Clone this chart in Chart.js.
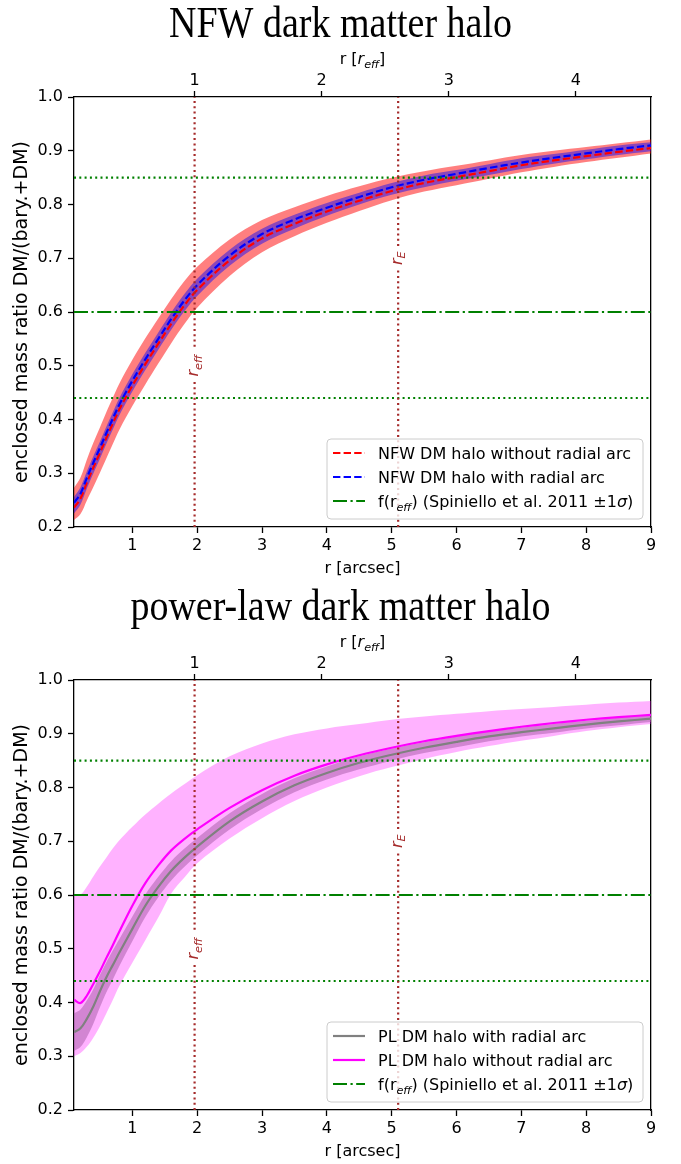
<!DOCTYPE html>
<html>
<head>
<meta charset="utf-8">
<script src="https://cdn.jsdelivr.net/npm/chart.js@4.4.1/dist/chart.umd.min.js"></script>
<style>
  body { margin: 0; background: #fff; overflow: hidden; }
  #wrap { position: relative; width: 681px; height: 1164px; }
  canvas { position: absolute; left: 0; }
</style>
</head>
<body>
<div id="wrap">
  <canvas id="nfw" width="681" height="582" style="top:0px"></canvas>
  <canvas id="pl" width="681" height="582" style="top:583px"></canvas>
</div>
<script>
// radius grid in arcsec
var rGrid = [0.1, 0.2, 0.3, 0.4, 0.5, 0.6, 0.7, 0.8, 1.0, 1.2, 1.4, 1.6, 1.8, 2.0,
             2.5, 3.0, 3.5, 4.0, 4.5, 5.0, 5.5, 6.0, 6.5, 7.0, 7.5, 8.0, 8.5, 9.0];

// NFW halo: enclosed DM fraction
var nfwWithArc    = [0.245, 0.262, 0.292, 0.320, 0.347, 0.375, 0.402, 0.428, 0.472, 0.512, 0.550, 0.587, 0.621, 0.650,
                     0.705, 0.745, 0.772, 0.794, 0.814, 0.832, 0.846, 0.857, 0.868, 0.878, 0.887, 0.895, 0.903, 0.910];
var nfwWithoutArc = [0.236, 0.253, 0.283, 0.311, 0.338, 0.366, 0.393, 0.419, 0.463, 0.503, 0.541, 0.578, 0.612, 0.641,
                     0.696, 0.737, 0.764, 0.787, 0.807, 0.825, 0.840, 0.851, 0.862, 0.873, 0.882, 0.890, 0.898, 0.905];
var nfwWithoutLo  = [0.213, 0.224, 0.250, 0.275, 0.301, 0.328, 0.355, 0.381, 0.425, 0.465, 0.504, 0.542, 0.577, 0.608,
                     0.667, 0.711, 0.741, 0.766, 0.788, 0.808, 0.824, 0.836, 0.848, 0.860, 0.870, 0.879, 0.887, 0.895];
var nfwWithoutHi  = [0.273, 0.292, 0.326, 0.357, 0.385, 0.414, 0.441, 0.467, 0.511, 0.551, 0.588, 0.624, 0.657, 0.684,
                     0.735, 0.771, 0.795, 0.816, 0.834, 0.850, 0.862, 0.872, 0.882, 0.892, 0.900, 0.907, 0.914, 0.921];
var nfwWithLo     = [0.225, 0.242, 0.272, 0.300, 0.327, 0.355, 0.382, 0.408, 0.452, 0.492, 0.530, 0.567, 0.601, 0.630,
                     0.686, 0.727, 0.755, 0.779, 0.800, 0.818, 0.832, 0.844, 0.855, 0.866, 0.876, 0.884, 0.892, 0.899];
var nfwWithHi     = [0.256, 0.274, 0.304, 0.332, 0.359, 0.387, 0.414, 0.440, 0.484, 0.524, 0.562, 0.599, 0.633, 0.662,
                     0.716, 0.755, 0.781, 0.803, 0.822, 0.840, 0.854, 0.864, 0.875, 0.886, 0.894, 0.902, 0.910, 0.916];

// power-law halo: enclosed DM fraction
var plWithArc     = [0.345, 0.352, 0.370, 0.393, 0.421, 0.447, 0.470, 0.493, 0.537, 0.580, 0.615, 0.645, 0.669, 0.690,
                     0.737, 0.774, 0.804, 0.827, 0.846, 0.861, 0.874, 0.885, 0.895, 0.903, 0.910, 0.917, 0.923, 0.928];
var plWithLo      = [0.310, 0.317, 0.336, 0.361, 0.391, 0.419, 0.443, 0.468, 0.514, 0.559, 0.596, 0.627, 0.652, 0.674,
                     0.722, 0.760, 0.791, 0.815, 0.834, 0.850, 0.864, 0.875, 0.886, 0.895, 0.902, 0.910, 0.916, 0.922];
var plWithHi      = [0.380, 0.387, 0.404, 0.425, 0.451, 0.475, 0.497, 0.518, 0.560, 0.601, 0.634, 0.663, 0.686, 0.706,
                     0.752, 0.788, 0.817, 0.839, 0.858, 0.872, 0.884, 0.895, 0.904, 0.911, 0.918, 0.924, 0.930, 0.934];
var plWithoutArc  = [0.405, 0.399, 0.413, 0.435, 0.458, 0.483, 0.507, 0.532, 0.580, 0.622, 0.655, 0.683, 0.704, 0.722,
                     0.762, 0.795, 0.822, 0.843, 0.860, 0.874, 0.886, 0.896, 0.905, 0.913, 0.920, 0.926, 0.931, 0.935];
var plWithoutLo   = [0.300, 0.306, 0.318, 0.335, 0.356, 0.380, 0.405, 0.431, 0.474, 0.516, 0.558, 0.603, 0.632, 0.659,
                     0.705, 0.743, 0.775, 0.800, 0.821, 0.838, 0.853, 0.866, 0.877, 0.887, 0.896, 0.905, 0.912, 0.918];
var plWithoutHi   = [0.600, 0.601, 0.616, 0.635, 0.653, 0.670, 0.687, 0.702, 0.727, 0.750, 0.770, 0.789, 0.806, 0.823,
                     0.858, 0.882, 0.899, 0.910, 0.918, 0.926, 0.932, 0.937, 0.942, 0.946, 0.950, 0.954, 0.958, 0.961];

// Spiniello et al. 2011: f(r_eff) - 1 sigma, value, + 1 sigma
var fRefLines = [0.44, 0.6, 0.85];
var rEff = 1.96;       // arcsec
var rEinstein = 5.1;   // arcsec
var xTicks = [1, 2, 3, 4, 5, 6, 7, 8, 9];
var topTicks = [1, 2, 3, 4];
var yTicks = [0.2, 0.3, 0.4, 0.5, 0.6, 0.7, 0.8, 0.9, 1.0];
var xMin = 0.1, xMax = 9, yMin = 0.2, yMax = 1.0;

var FAM = '"DejaVu Sans", sans-serif';

function pts(ys) {
    return rGrid.map(function (x, i) { return {x: x, y: ys[i]}; });
}

// text with italic / subscript parts, y is the baseline
function drawRich(ctx, parts, x, y, size, color, align) {
    function font(st) {
        var sz = st === 's' ? size * 0.7 : size;
        return (st === 'n' ? '' : 'italic ') + sz + 'px ' + FAM;
    }
    var w = 0;
    parts.forEach(function (p) { ctx.font = font(p[1]); w += ctx.measureText(p[0]).width; });
    var cx = align === 'center' ? x - w / 2 : x;
    ctx.fillStyle = color;
    ctx.textBaseline = 'alphabetic';
    ctx.textAlign = 'left';
    parts.forEach(function (p) {
        ctx.font = font(p[1]);
        ctx.fillText(p[0], cx, y + (p[1] === 's' ? size * 0.22 : 0));
        cx += ctx.measureText(p[0]).width;
    });
    return w;
}

var extras = {
    id: 'extras',
    afterDatasetsDraw: function (chart, args, opts) {
        var ctx = chart.ctx;
        (opts.vLabels || []).forEach(function (lb) {
            var px = chart.scales.x.getPixelForValue(lb.x);
            var py = chart.scales.y.getPixelForValue(lb.y);
            ctx.save();
            ctx.translate(px, py);
            ctx.rotate(-Math.PI / 2);
            var w = 0;
            lb.parts.forEach(function (p) {
                ctx.font = (p[1] === 's' ? 'italic 11.2px ' : 'italic 16px ') + FAM;
                w += ctx.measureText(p[0]).width;
            });
            ctx.fillStyle = '#fff';
            ctx.fillRect(-w / 2 - 5, -10, w + 10, 18);
            drawRich(ctx, lb.parts, 0, 3.5, 16, '#a52a2a', 'center');
            ctx.restore();
        });
    },
    afterDraw: function (chart, args, opts) {
        var ctx = chart.ctx, a = chart.chartArea;
        ctx.save();
        // main title (serif, slightly tall like the original)
        ctx.save();
        ctx.font = '38px "Liberation Serif", "Times New Roman", serif';
        ctx.fillStyle = '#000';
        ctx.textAlign = 'center';
        ctx.textBaseline = 'alphabetic';
        ctx.translate(chart.width / 2, 37);
        ctx.scale(1, 1.15);
        ctx.fillText(opts.title, 0, 0);
        ctx.restore();
        drawRich(ctx, [['r [', 'n'], ['r', 'i'], ['eff', 's'], [']', 'n']],
                 (a.left + a.right) / 2, a.top - 33, 16, '#000', 'center');
        // legend box
        var w = 316, h = 80;
        var x0 = a.right - 8 - w, y0 = a.bottom - 8 - h;
        ctx.beginPath();
        ctx.roundRect(x0, y0, w, h, 4);
        ctx.fillStyle = 'rgba(255,255,255,0.8)';
        ctx.fill();
        ctx.strokeStyle = '#cccccc';
        ctx.lineWidth = 1;
        ctx.stroke();
        opts.legend.forEach(function (it, i) {
            var y = y0 + 14 + i * 24;
            ctx.strokeStyle = it.color;
            ctx.lineWidth = 2.2;
            ctx.setLineDash(it.dash);
            ctx.beginPath();
            ctx.moveTo(x0 + 6, y);
            ctx.lineTo(x0 + 38, y);
            ctx.stroke();
            ctx.setLineDash([]);
            drawRich(ctx, it.text, x0 + 51, y + 6, 16, '#000', 'left');
        });
        ctx.restore();
    }
};

function bandSets(lo, hi, color, order) {
    var common = {borderWidth: 0, pointRadius: 0, tension: 0.35, order: order};
    return [
        Object.assign({data: pts(lo), fill: false}, common),
        Object.assign({data: pts(hi), fill: '-1', backgroundColor: color}, common)
    ];
}

function curve(ys, color, dash, order) {
    return {data: pts(ys), borderColor: color, borderWidth: 2.2, borderDash: dash, pointRadius: 0,
            fill: false, tension: 0.35, order: order};
}

function refSets() {
    var styles = [[2, 3.3], [14, 3.5, 2.2, 3.5], [2, 3.3]];
    var sets = fRefLines.map(function (v, i) {
        return {data: [{x: xMin, y: v}, {x: xMax, y: v}], borderColor: 'green', borderWidth: 2.2,
                borderDash: styles[i], pointRadius: 0, fill: false, order: 3};
    });
    [rEff, rEinstein].forEach(function (r) {
        sets.push({data: [{x: r, y: yMin}, {x: r, y: yMax}], borderColor: '#a52a2a', borderWidth: 2.2,
                   borderDash: [2, 3.3], pointRadius: 0, fill: false, order: 2});
    });
    return sets;
}

var dashDot = [14, 3.5, 2.2, 3.5];
var fLabel = [['f(r', 'n'], ['eff', 's'], [') (Spiniello et al. 2011 \u00b11', 'n'], ['\u03c3', 'i'], [')', 'n']];

function makeChart(id, title, datasets, legendItems) {
    var axisGrid = {display: true, drawOnChartArea: false, drawTicks: true, tickLength: 6,
                    tickWidth: 1.3, tickColor: '#000'};
    var axisBorder = {display: true, color: '#000', width: 1.3};
    var tickFont = {family: FAM, size: 16};
    return new Chart(document.getElementById(id), {
        type: 'line',
        data: {datasets: datasets},
        plugins: [extras],
        options: {
            responsive: false,
            animation: false,
            layout: {padding: 0},
            plugins: {
                legend: {display: false},
                tooltip: {enabled: false},
                title: {display: false},
                extras: {
                    title: title,
                    vLabels: [
                        {x: rEff, y: 0.5, parts: [['r', 'i'], ['eff', 's']]},
                        {x: rEinstein, y: 0.7, parts: [['r', 'i'], ['E', 's']]}
                    ],
                    legend: legendItems
                }
            },
            scales: {
                x: {
                    type: 'linear', position: 'bottom', min: xMin, max: xMax,
                    grid: axisGrid, border: axisBorder,
                    ticks: {color: '#000', font: tickFont, padding: 3, autoSkip: false, maxRotation: 0,
                            callback: function (v) { return String(v); }},
                    afterBuildTicks: function (s) { s.ticks = xTicks.map(function (v) { return {value: v}; }); },
                    title: {display: true, text: 'r [arcsec]', color: '#000', font: {family: FAM, size: 16},
                            padding: {top: 0, bottom: 4}},
                    afterFit: function (s) { s.height = 55; }
                },
                x2: {
                    type: 'linear', position: 'top', min: xMin / rEff, max: xMax / rEff,
                    grid: axisGrid, border: axisBorder,
                    ticks: {color: '#000', font: tickFont, padding: 1, autoSkip: false, maxRotation: 0,
                            callback: function (v) { return String(v); }},
                    afterBuildTicks: function (s) { s.ticks = topTicks.map(function (v) { return {value: v}; }); },
                    afterFit: function (s) { s.height = 97; }
                },
                y: {
                    type: 'linear', position: 'left', min: yMin, max: yMax,
                    grid: axisGrid, border: axisBorder,
                    ticks: {color: '#000', font: tickFont, padding: 5,
                            callback: function (v) { return Number(v).toFixed(1); }},
                    afterBuildTicks: function (s) { s.ticks = yTicks.map(function (v) { return {value: v}; }); },
                    title: {display: true, text: 'enclosed mass ratio DM/(bary.+DM)', color: '#000',
                            font: {family: FAM, size: 19}, padding: {top: 10.5, bottom: 0}},
                    afterFit: function (s) { s.width = 74; }
                },
                yR: {
                    type: 'linear', position: 'right', min: yMin, max: yMax,
                    grid: {display: true, drawOnChartArea: false, drawTicks: false},
                    border: axisBorder,
                    ticks: {display: false},
                    afterFit: function (s) { s.width = 30; }
                }
            }
        }
    });
}

var nfwSets = []
    .concat(bandSets(nfwWithoutLo, nfwWithoutHi, 'rgba(255,0,0,0.5)', 20))
    .concat(bandSets(nfwWithLo, nfwWithHi, 'rgba(0,0,255,0.45)', 19))
    .concat([curve(nfwWithoutArc, 'red', [7.4, 3.2], 5), curve(nfwWithArc, 'blue', [7.4, 3.2], 4)])
    .concat(refSets());

makeChart('nfw', 'NFW dark matter halo', nfwSets, [
    {color: 'red', dash: [7.4, 3.2], text: [['NFW DM halo without radial arc', 'n']]},
    {color: 'blue', dash: [7.4, 3.2], text: [['NFW DM halo with radial arc', 'n']]},
    {color: 'green', dash: dashDot, text: fLabel}
]);

var plSets = []
    .concat(bandSets(plWithLo, plWithHi, 'rgba(128,128,128,0.5)', 20))
    .concat(bandSets(plWithoutLo, plWithoutHi, 'rgba(255,0,255,0.3)', 19))
    .concat([curve(plWithArc, 'gray', [], 5), curve(plWithoutArc, 'magenta', [], 4)])
    .concat(refSets());

makeChart('pl', 'power-law dark matter halo', plSets, [
    {color: 'gray', dash: [], text: [['PL DM halo with radial arc', 'n']]},
    {color: 'magenta', dash: [], text: [['PL DM halo without radial arc', 'n']]},
    {color: 'green', dash: dashDot, text: fLabel}
]);
</script>
</body>
</html>
